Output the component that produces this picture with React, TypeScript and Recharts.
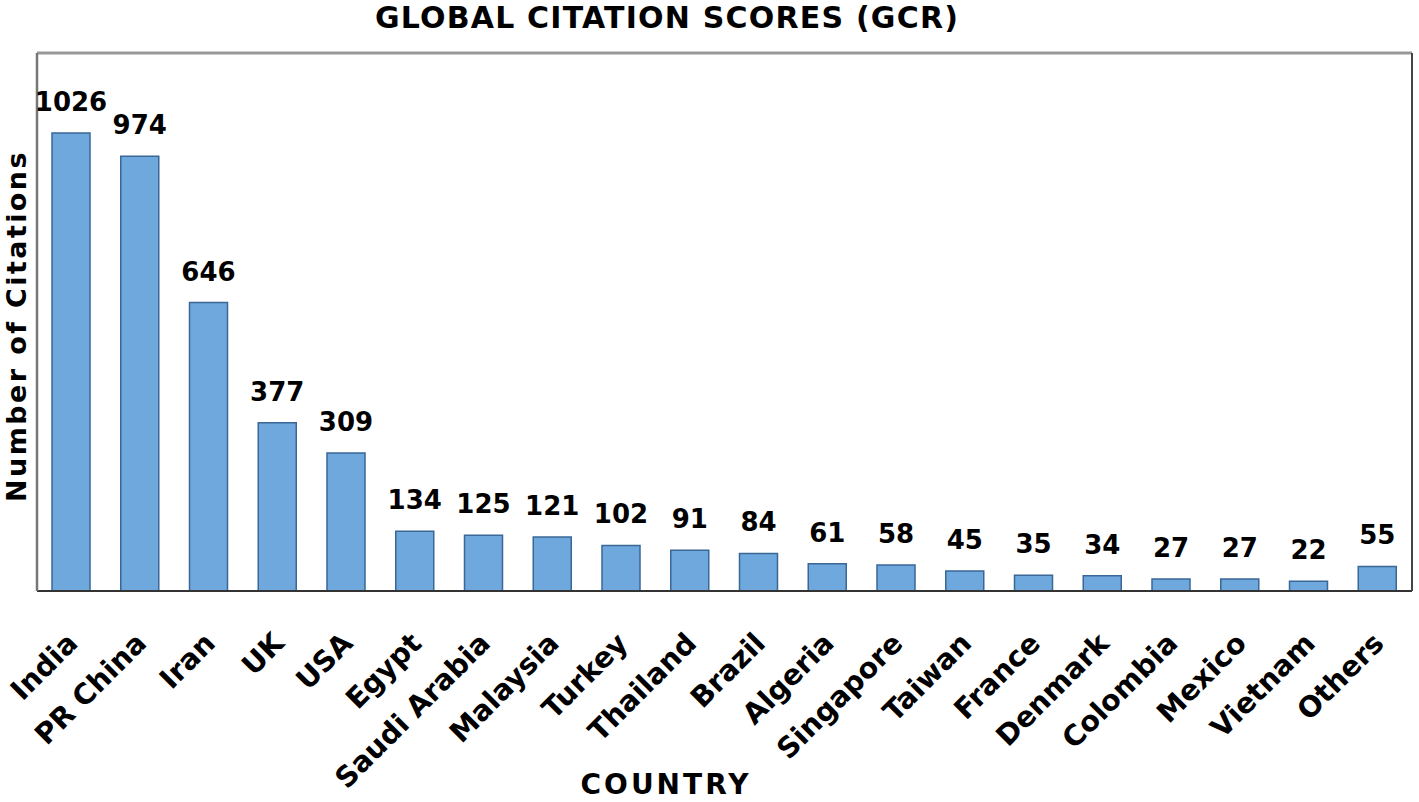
import React from "react";
import { BarChart, Bar, XAxis, YAxis, LabelList, Label } from "recharts";

const countries = [
  "India", "PR China", "Iran", "UK", "USA", "Egypt", "Saudi Arabia", "Malaysia",
  "Turkey", "Thailand", "Brazil", "Algeria", "Singapore", "Taiwan", "France",
  "Denmark", "Colombia", "Mexico", "Vietnam", "Others",
];
const citations = [1026, 974, 646, 377, 309, 134, 125, 121, 102, 91, 84, 61, 58, 45, 35, 34, 27, 27, 22, 55];

const data = countries.map((c, i) => ({ country: c, value: citations[i] }));

const FONT = "'DejaVu Sans', Verdana, sans-serif";

const CountryTick = (props: any) => {
  const { x, y, payload } = props;
  return (
    <g transform={`translate(${x + 8},${y + 54})`}>
      <text
        textAnchor="end"
        transform="rotate(-45)"
        fontFamily={FONT}
        fontWeight="bold"
        fontSize={28.5}
        fill="#000"
      >
        {payload.value}
      </text>
    </g>
  );
};

export default function App() {
  return (
    <div style={{ position: "absolute", left: 0, top: 0, width: 1419, height: 802, background: "#fff" }}>
      <BarChart
        width={1419}
        height={802}
        data={data}
        margin={{ top: 52, right: 6, left: 36, bottom: 0 }}
      >
        <XAxis
          dataKey="country"
          height={211}
          interval={0}
          tickLine={false}
          tickSize={0}
          tickMargin={0}
          axisLine={{ stroke: "#333", strokeWidth: 2 }}
          tick={<CountryTick />}
        >
          <Label
            content={() => (
              <text
                x={666}
                y={794}
                textAnchor="middle"
                fontFamily={FONT}
                fontWeight="bold"
                fontSize={28}
                letterSpacing={3}
                fill="#000"
              >
                COUNTRY
              </text>
            )}
          />
        </XAxis>
        <XAxis
          xAxisId="top"
          dataKey="country"
          orientation="top"
          height={1}
          tick={false}
          tickLine={false}
          axisLine={{ stroke: "#999", strokeWidth: 3 }}
        >
          <Label
            content={() => (
              <text
                x={667}
                y={28}
                textAnchor="middle"
                fontFamily={FONT}
                fontWeight="bold"
                fontSize={30}
                letterSpacing={1.2}
                fill="#000"
              >
                GLOBAL CITATION SCORES (GCR)
              </text>
            )}
          />
        </XAxis>
        <YAxis
          domain={[0, 1205]}
          width={1}
          tick={false}
          tickLine={false}
          axisLine={{ stroke: "#777", strokeWidth: 2.5 }}
        >
          <Label
            content={() => (
              <text
                x={26}
                y={326}
                textAnchor="middle"
                transform="rotate(-90 26 326)"
                fontFamily={FONT}
                fontWeight="bold"
                fontSize={27}
                letterSpacing={2.4}
                fill="#000"
              >
                Number of Citations
              </text>
            )}
          />
        </YAxis>
        <YAxis
          yAxisId="right"
          orientation="right"
          domain={[0, 1205]}
          width={1}
          tick={false}
          tickLine={false}
          axisLine={{ stroke: "#444", strokeWidth: 2 }}
        />
        <Bar
          dataKey="value"
          fill="#6fa8dc"
          stroke="#3a6796"
          strokeWidth={1.5}
          barSize={38}
          isAnimationActive={false}
        >
          <LabelList
            dataKey="value"
            position="top"
            offset={22}
            fontFamily={FONT}
            fontWeight="bold"
            fontSize={26}
            fill="#000"
          />
        </Bar>
      </BarChart>
    </div>
  );
}
